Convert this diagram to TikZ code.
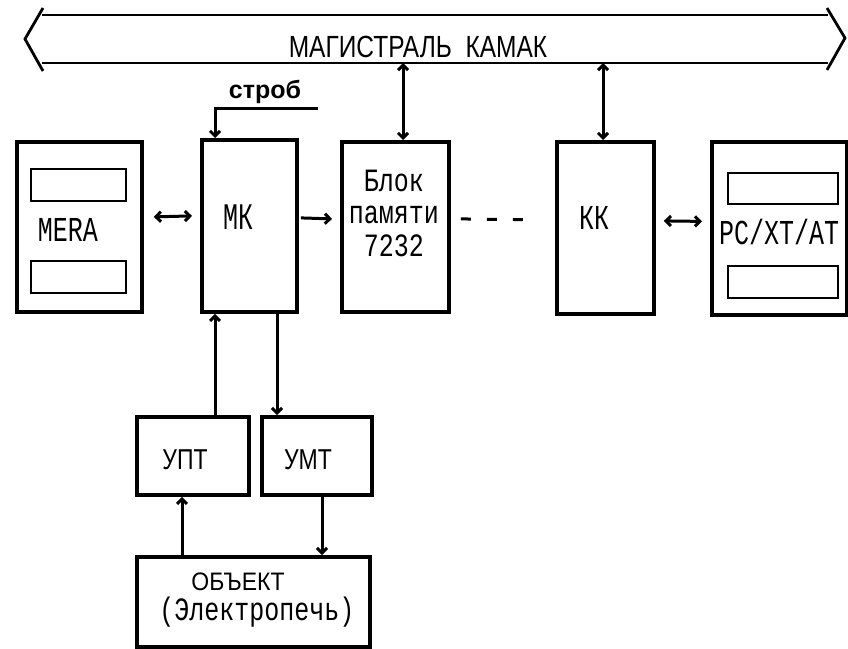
\documentclass[tikz,border=0pt]{standalone}
\usepackage{fontspec}
\usepackage{graphicx}
\setmainfont{Liberation Sans}
\newfontfamily\mono{Liberation Mono}
\usetikzlibrary{arrows.meta}
\newcommand\boxat[6]{\node[#1, minimum width={#5-#3}, minimum height={#6-#4}, anchor=north west] (#2) at (#3,#4) {};}
\newcommand\vsc[2]{\scalebox{1}[#1]{#2}}
\begin{document}
\begin{tikzpicture}[x=1pt,y=-1pt,
  blk/.style={draw, line width=3.8pt, inner sep=0pt},
  inr/.style={draw, line width=2.4pt, inner sep=0pt},
  conn/.style={line width=3pt},
  tip/.style={-{Straight Barb[length=5pt,width=10pt]}},
  dtip/.style={{Straight Barb[length=5pt,width=10pt]}-{Straight Barb[length=5pt,width=10pt]}},
  montxt/.style={font=\mono\fontsize{25}{30}\selectfont, inner sep=0pt},
  santxt/.style={font=\fontsize{23}{26}\selectfont, inner sep=0pt}]
\path[use as bounding box] (0,0) rectangle (848,648);
% bus
\draw[line width=2.8pt] (42,15) -- (828,15);
\draw[line width=2.8pt] (42,63) -- (828,63);
\draw[line width=2.8pt] (43,8) -- (25,39) -- (43,71);
\draw[line width=2.8pt] (827,8) -- (845,38) -- (827,70);
\node[font=\fontsize{24.5}{25}\selectfont, inner sep=0pt] (bust) at (418,47) {\vsc{1.25}{МАГИСТРАЛЬ\ \ КАМАК}};
\coordinate (bus1) at (403,63);
\coordinate (bus2) at (603,63);
% boxes
\boxat{blk}{mera}{15}{140}{140}{310}
\boxat{inr}{mera1}{30}{168}{125}{200}
\boxat{inr}{mera2}{30}{260}{125}{292}
\boxat{blk}{mk}{200}{138}{295}{310}
\boxat{blk}{blok}{340}{140}{447}{310}
\boxat{blk}{kk}{555}{140}{652}{312}
\boxat{blk}{pc}{710}{140}{845}{313}
\boxat{inr}{pc1}{727}{172}{837}{203}
\boxat{inr}{pc2}{727}{265}{837}{297}
\boxat{blk}{upt}{135}{415}{247}{493}
\boxat{blk}{umt}{260}{415}{370}{493}
\boxat{blk}{obj}{135}{555}{368}{645}
% texts
\node[montxt] (merat) at (68,230) {\vsc{1.4}{MERA}};
\node[montxt] (mkt) at (238,217) {\vsc{1.5}{МК}};
\node[montxt, font=\mono\fontsize{25}{25}\selectfont] (blokt) at (394,217) {\vsc{1.3}{\begin{tabular}{@{}c@{}}Блок\\памяти\\7232\end{tabular}}};
\node[montxt] (kkt) at (594,218) {\vsc{1.4}{КК}};
\node[montxt] (pct) at (779,232) {\vsc{1.4}{PC/XT/AT}};
\node[santxt] (uptt) at (185,460) {\vsc{1.25}{УПТ}};
\node[santxt] (umtt) at (308,460) {\vsc{1.25}{УМТ}};
\node[santxt] (objt) at (238,582) {\vsc{1.1}{ОБЪЕКТ}};
\node[montxt] (elt) at (257,612) {\vsc{1.3}{(Электропечь)}};
\node[font=\bfseries\fontsize{25}{26}\selectfont, inner sep=0pt] (strobt) at (265,92) {строб};
% connectors
\coordinate (strobEnd) at (318,108);
\coordinate (mkIn) at ([xshift=15pt]mk.north west);
\draw[conn, tip] (strobEnd) -| (mkIn);
\draw[conn, dtip] (bus1) -- (bus1 |- blok.north);
\draw[conn, dtip] (bus2) -- (bus2 |- kk.north);
\draw[conn, dtip] ([shift={(10,-10)}]mera.east) -- ([shift={(-8,-10)}]mk.west);
\draw[conn, tip] ([shift={(2,-8)}]mk.east) -- ([shift={(-8,-8)}]blok.west);
\draw[conn, dash pattern=on 10pt off 16pt] ([shift={(10,-8)}]blok.east) -- ([shift={(-20,-8)}]kk.west);
\draw[conn, dtip] ([shift={(8,-7)}]kk.east) -- ([shift={(-8,-7)}]pc.west);
\coordinate (ua) at ([xshift=80pt]upt.north west);
\draw[conn, tip] (ua) -- (ua |- mk.south);
\coordinate (ux) at ([xshift=17pt]umt.north west);
\draw[conn, tip] (ux |- mk.south) -- (ux);
\coordinate (ox) at ([xshift=47pt]obj.north west);
\draw[conn, tip] (ox) -- (ox |- upt.south);
\coordinate (uy) at ([xshift=62pt]umt.south west);
\draw[conn, tip] (uy) -- (uy |- obj.north);
\end{tikzpicture}
\end{document}
